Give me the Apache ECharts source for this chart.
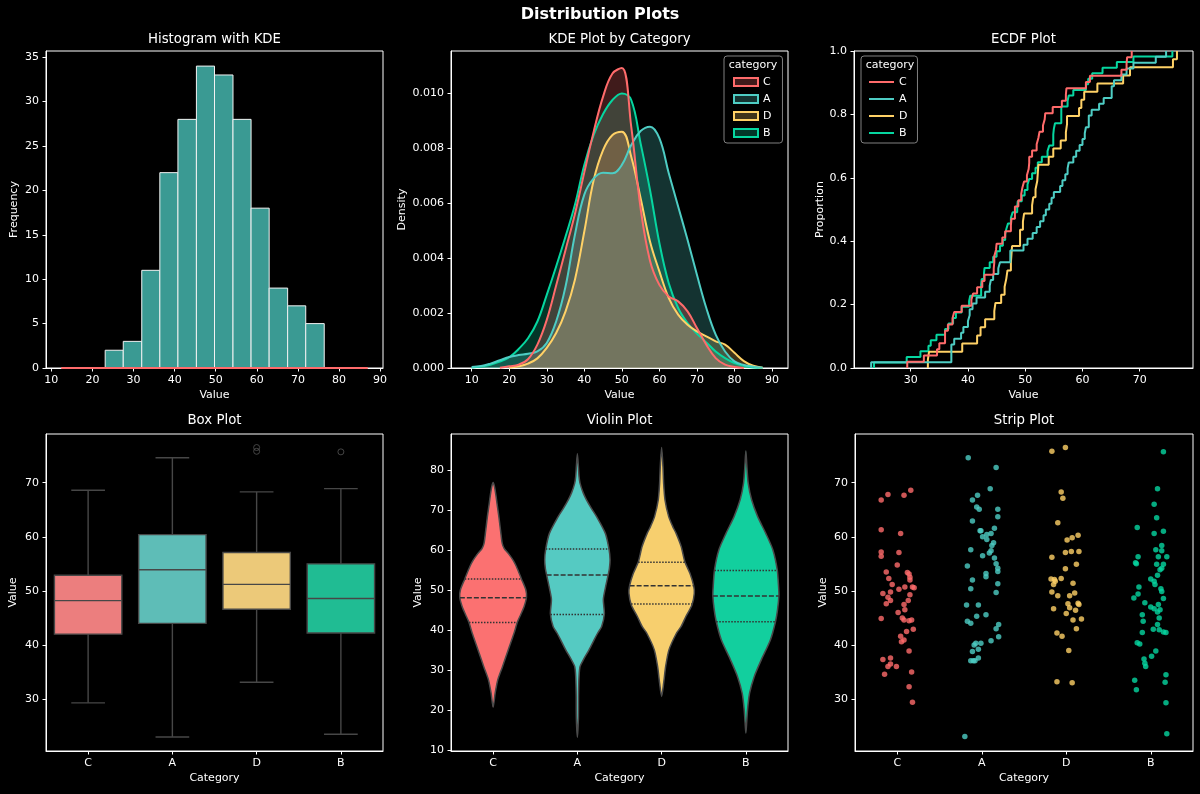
<!DOCTYPE html>
<html>
<head>
<meta charset="utf-8">
<title>Distribution Plots</title>
<script src="https://cdn.jsdelivr.net/npm/echarts@6/dist/echarts.min.js"></script>
<style>
  html, body { margin: 0; padding: 0; background: #000; }
  #chart { width: 1200px; height: 794px; }
</style>
</head>
<body>
<div id="chart"></div>
<script>
// ---- data ----
var categories = ['C', 'A', 'D', 'B'];

// histogram (all 200 values)
var histEdges = [23.1, 27.5, 32.0, 36.4, 40.8, 45.3, 49.7, 54.2, 58.6, 63.0, 67.5, 71.9, 76.4];
var histCounts = [2, 3, 11, 22, 28, 34, 33, 28, 18, 9, 7, 5];
var histKdeLine = [[12.4, 0], [87.0, 0]];

// KDE by category, sampled along kdeX
var kdeX = [10, 12.5, 15, 17.5, 20, 22.5, 25, 27.5, 30, 32.5, 35, 37.5, 40, 42.5, 45, 47.5, 50,
            52.5, 55, 57.5, 60, 62.5, 65, 67.5, 70, 72.5, 75, 77.5, 80, 82.5, 85, 87.5, 90];
var kdeC = [null, null, null, 0.00001, 0.00006, 0.00012, 0.00032, 0.00085, 0.00175, 0.00300, 0.00429,
            0.00560, 0.00711, 0.00859, 0.00986, 0.01070, 0.01090, 0.00877, 0.00580, 0.00390, 0.00302,
            0.00260, 0.00242, 0.00206, 0.00145, 0.00085, 0.00036, 0.00012, 0.00004, 0, null, null, null];
var kdeA = [0.00004, 0.00007, 0.00016, 0.00028, 0.00040, 0.00047, 0.00052, 0.00060, 0.00091, 0.00169,
            0.00296, 0.00484, 0.00630, 0.00689, 0.00710, 0.00708, 0.00738, 0.00810, 0.00861, 0.00877,
            0.00835, 0.00708, 0.00587, 0.00466, 0.00339, 0.00218, 0.00121, 0.00060, 0.00024, 0.00011,
            0.00005, 0.00001, null];
var kdeD = [null, null, null, null, 0.00001, 0.00006, 0.00016, 0.00035, 0.00073, 0.00127, 0.00206,
            0.00321, 0.00496, 0.00683, 0.00792, 0.00847, 0.00859, 0.00768, 0.00617, 0.00460, 0.00351,
            0.00254, 0.00194, 0.00157, 0.00133, 0.00115, 0.00097, 0.00085, 0.00055, 0.00025, 0.00008,
            0.00001, null];
var kdeB = [0.00002, 0.00005, 0.00012, 0.00023, 0.00039, 0.00069, 0.00108, 0.00169, 0.00266, 0.00369,
            0.00478, 0.00593, 0.00738, 0.00847, 0.00923, 0.00974, 0.00998, 0.00974, 0.00816, 0.00647,
            0.00454, 0.00308, 0.00218, 0.00163, 0.00125, 0.00093, 0.00060, 0.00036, 0.00018, 0.00008,
            0.00002, 0.00001, null];

// raw values per category (strip plot, also used for the ECDF) and their strip jitter
var valuesC = [66.8, 67.8, 67.7, 68.6, 61.3, 60.6, 57.2, 56.4, 57.1, 54.8, 53.5, 53.4, 53.1, 52.3, 52.5,
               51.2, 52.0, 50.7, 50.7, 50.6, 50.3, 49.5, 49.8, 49.3, 48.8, 48.2, 48.2, 47.6, 47.5, 46.5,
               46.0, 44.9, 45.0, 44.6, 44.5, 44.6, 42.5, 42.9, 41.6, 40.6, 40.9, 38.9, 37.3, 37.6, 36.5,
               36.0, 36.0, 34.6, 35.0, 32.3, 29.4];
var jitterC = [-0.19, -0.11, 0.08, 0.16, -0.19, 0.04, -0.19, -0.19, 0.02, 0.00, -0.13, 0.12, 0.14, -0.10,
               0.15, -0.06, 0.15, 0.09, 0.18, 0.20, 0.02, -0.17, -0.08, 0.15, -0.11, -0.08, 0.13, -0.13,
               0.08, 0.09, 0.01, -0.19, 0.06, 0.08, 0.14, 0.17, 0.11, 0.19, 0.04, 0.05, 0.08, 0.14, -0.17,
               -0.08, -0.08, -0.11, -0.01, -0.15, 0.17, 0.14, 0.18];
var valuesA = [74.6, 72.8, 68.9, 67.7, 66.8, 65.5, 65.1, 65.1, 63.7, 62.9, 61.6, 61.1, 61.1, 60.6, 60.4,
               60.0, 59.5, 58.9, 58.4, 57.6, 57.4, 57.0, 56.5, 56.1, 55.0, 54.2, 54.6, 53.6, 53.2, 52.6,
               52.0, 50.4, 51.3, 49.7, 47.4, 47.4, 45.6, 45.3, 44.4, 44.0, 43.8, 43.0, 41.5, 40.8, 40.3,
               40.3, 40.0, 39.2, 38.8, 37.6, 37.1, 37.1, 37.1, 23.1];
var jitterA = [-0.16, 0.17, 0.10, -0.05, -0.11, -0.06, -0.03, 0.19, 0.19, -0.11, 0.15, -0.02, -0.01, 0.11,
               0.06, 0.01, 0.06, 0.14, 0.12, -0.13, 0.11, 0.09, 0.01, 0.15, 0.17, 0.19, -0.17, 0.19, 0.05,
               0.05, -0.11, -0.13, 0.19, 0.17, -0.18, -0.04, 0.05, -0.06, -0.17, -0.13, 0.20, 0.17, 0.20,
               0.11, -0.07, -0.01, -0.09, -0.04, -0.11, -0.04, -0.10, -0.08, -0.13, -0.20];
var valuesD = [75.8, 76.5, 68.3, 67.1, 62.6, 56.2, 59.4, 59.8, 60.3, 57.1, 57.3, 57.3, 54.1, 54.9, 52.2,
               52.1, 51.8, 52.3, 51.2, 51.4, 49.8, 49.1, 49.1, 49.6, 47.6, 47.7, 47.5, 46.7, 46.9, 46.4,
               45.8, 44.6, 44.8, 43.0, 42.2, 41.6, 39.0, 33.2, 33.0];
var jitterD = [-0.17, -0.01, -0.06, -0.04, -0.10, -0.17, 0.01, 0.07, 0.14, -0.01, 0.06, 0.15, -0.01, 0.12,
               -0.18, -0.14, -0.13, -0.06, -0.15, 0.08, -0.17, -0.10, 0.04, 0.10, 0.02, 0.14, 0.15, -0.15,
               0.04, 0.11, 0.00, 0.08, 0.18, 0.12, -0.11, -0.05, 0.03, -0.11, 0.07];
var valuesB = [75.7, 68.9, 66.0, 63.5, 61.7, 60.6, 61.0, 58.4, 57.6, 57.4, 56.3, 56.3, 56.3, 55.2, 55.0,
               54.9, 54.9, 54.2, 53.9, 52.9, 52.2, 51.8, 51.2, 50.7, 50.4, 49.9, 49.4, 48.7, 48.6, 47.8,
               47.5, 47.0, 46.7, 46.5, 46.1, 45.6, 45.0, 44.4, 43.8, 42.9, 42.8, 42.4, 42.3, 42.3, 40.4,
               40.2, 38.9, 37.9, 37.4, 36.6, 36.0, 33.5, 34.5, 33.1, 31.7, 29.3, 23.6];
var jitterB = [0.15, 0.08, 0.04, 0.07, -0.16, 0.04, 0.15, 0.13, 0.06, 0.13, -0.15, 0.09, 0.19, -0.18, -0.17,
               0.07, 0.15, 0.13, 0.11, 0.08, 0.00, 0.04, 0.05, -0.14, 0.12, 0.13, -0.15, -0.20, 0.15, -0.07,
               0.09, 0.00, 0.04, 0.11, 0.08, -0.10, 0.10, -0.09, 0.08, 0.03, 0.10, 0.15, 0.18, -0.10, -0.16,
               -0.13, 0.06, 0.01, -0.08, -0.07, -0.06, -0.19, 0.18, 0.17, -0.17, 0.18, 0.19];

// box plot statistics, in category order C, A, D, B
var boxWhiskerLow = [29.3, 23.0, 33.1, 23.5];
var boxQ1 = [42.0, 44.0, 46.6, 42.2];
var boxMedian = [48.2, 53.9, 51.2, 48.6];
var boxQ3 = [52.9, 60.4, 57.1, 55.0];
var boxWhiskerHigh = [68.6, 74.6, 68.3, 68.9];
var boxOutliers = [['D', 76.5], ['D', 75.8], ['B', 75.7]];

// violin profiles: [value, density relative to the widest violin]
var violinC = [[77.0, 0], [76.0, 0.04], [74.0, 0.08], [71.5, 0.12], [68.5, 0.17], [64.3, 0.23], [61.8, 0.27],
               [60.5, 0.33], [59.3, 0.45], [57.5, 0.60], [56.0, 0.69], [52.9, 0.84], [50.2, 0.97],
               [48.3, 0.99], [46.0, 0.92], [44.0, 0.82], [42.1, 0.72], [39.3, 0.62], [35.2, 0.45],
               [31.0, 0.28], [27.7, 0.14], [24.3, 0.06], [20.8, 0]];
var violinA = [[84.2, 0], [81.0, 0.03], [78.5, 0.05], [76.8, 0.08], [74.5, 0.17], [72.7, 0.27], [70.5, 0.42],
               [68.5, 0.57], [64.3, 0.83], [60.3, 0.94], [57.7, 0.97], [55.5, 0.95], [53.8, 0.91],
               [50.2, 0.82], [47.7, 0.77], [44.1, 0.80], [41.0, 0.72], [39.3, 0.60], [37.7, 0.50],
               [35.2, 0.35], [32.7, 0.18], [31.0, 0.08], [28.5, 0.05], [24.0, 0.035], [18.0, 0.03], [13.3, 0]];
var violinD = [[85.8, 0], [81.0, 0.04], [76.8, 0.06], [72.7, 0.10], [68.5, 0.21], [66.0, 0.33], [64.3, 0.43],
               [61.0, 0.58], [57.2, 0.69], [54.3, 0.84], [51.2, 0.95], [49.3, 0.97], [46.4, 0.90],
               [43.5, 0.72], [41.0, 0.58], [39.3, 0.44], [35.2, 0.22], [31.0, 0.12], [26.8, 0.06], [23.5, 0]];
var violinB = [[85.0, 0], [81.0, 0.03], [76.8, 0.07], [72.7, 0.17], [68.5, 0.35], [64.3, 0.59], [60.2, 0.80],
               [55.2, 0.93], [51.0, 0.97], [48.75, 0.98], [45.2, 0.94], [42.25, 0.88], [37.7, 0.73],
               [32.7, 0.46], [28.5, 0.25], [24.3, 0.11], [20.2, 0.05], [16.5, 0.02], [14.3, 0]];

// tick labels
var histXTicks = [10, 20, 30, 40, 50, 60, 70, 80, 90];
var histYTicks = [0, 5, 10, 15, 20, 25, 30, 35];
var kdeXTicks = [10, 20, 30, 40, 50, 60, 70, 80, 90];
var kdeYTicks = [0, 0.002, 0.004, 0.006, 0.008, 0.010];
var ecdfXTicks = [30, 40, 50, 60, 70];
var ecdfYTicks = [0, 0.2, 0.4, 0.6, 0.8, 1.0];
var catTicks = [0, 1, 2, 3];
var boxYTicks = [30, 40, 50, 60, 70];
var violinYTicks = [10, 20, 30, 40, 50, 60, 70, 80];

// ---- styles ----
var fontFamily = 'DejaVu Sans';
var palette = {C: '#FF6B6B', A: '#4ECDC4', D: '#FFD166', B: '#06D6A0'};
var boxColors = {C: '#EC7E7E', A: '#5EBDB7', D: '#ECC979', B: '#20BC93'};
var violinColors = {C: '#FB7171', A: '#55CAC2', D: '#F7CF6E', B: '#12CF9E'};
var boxLine = '#474747';
var drawOrder = ['B', 'D', 'A', 'C'];
var kdeByCat = {C: kdeC, A: kdeA, D: kdeD, B: kdeB};
var valuesByCat = {C: valuesC, A: valuesA, D: valuesD, B: valuesB};
var jitterByCat = {C: jitterC, A: jitterA, D: jitterD, B: jitterB};
var violinProfiles = {C: violinC, A: violinA, D: violinD, B: violinB};

function rgba(hex, a) {
  var n = parseInt(hex.slice(1), 16);
  return 'rgba(' + ((n >> 16) & 255) + ',' + ((n >> 8) & 255) + ',' + (n & 255) + ',' + a + ')';
}

function axis(gridIndex, min, max, ticks, name, nameGap, formatter) {
  return {
    type: 'value', gridIndex: gridIndex, min: min, max: max,
    name: name, nameLocation: 'middle', nameGap: nameGap,
    nameTextStyle: {color: '#fff', fontSize: 11, fontFamily: fontFamily},
    axisLine: {show: true, onZero: false, lineStyle: {color: '#fff', width: 1}},
    axisTick: {show: true, length: 3.5, customValues: ticks, lineStyle: {color: '#fff', width: 1}},
    axisLabel: {color: '#fff', fontSize: 11, fontFamily: fontFamily, margin: 7,
                customValues: ticks, formatter: formatter},
    splitLine: {show: false}
  };
}
function catFmt(v) { return categories[Math.round(v)]; }

function ecdfSteps(values) {
  var s = values.slice().sort(function (a, b) { return a - b; });
  var pts = [[s[0], 0]];
  s.forEach(function (v, i) { pts.push([v, (i + 1) / s.length]); });
  return pts;
}

function profileWidth(prof, v) {
  for (var i = 0; i < prof.length - 1; i++) {
    var a = prof[i], b = prof[i + 1];
    if (v <= a[0] && v >= b[0]) {
      var t = (a[0] - v) / (a[0] - b[0]);
      return a[1] + t * (b[1] - a[1]);
    }
  }
  return 0;
}

function renderHist(params, api) {
  var p0 = api.coord([api.value(0), 0]);
  var p1 = api.coord([api.value(1), api.value(2)]);
  return {
    type: 'rect',
    shape: {x: p0[0], y: p1[1], width: p1[0] - p0[0], height: p0[1] - p1[1]},
    style: {fill: '#3A9A93', stroke: '#f2f2f2', lineWidth: 1}
  };
}

function renderBox(params, api) {
  var ci = api.value(0);
  var low = api.value(1), q1 = api.value(2), med = api.value(3), q3 = api.value(4), high = api.value(5);
  var half = api.size([0.8, 0])[0] / 2;
  var cx = api.coord([ci, med])[0];
  function y(v) { return api.coord([ci, v])[1]; }
  function ln(x1, y1, x2, y2) {
    return {type: 'line', shape: {x1: x1, y1: y1, x2: x2, y2: y2},
            style: {stroke: boxLine, lineWidth: 1.4}};
  }
  return {type: 'group', children: [
    ln(cx, y(q3), cx, y(high)),
    ln(cx, y(q1), cx, y(low)),
    ln(cx - half / 2, y(high), cx + half / 2, y(high)),
    ln(cx - half / 2, y(low), cx + half / 2, y(low)),
    {type: 'rect', shape: {x: cx - half, y: y(q3), width: 2 * half, height: y(q1) - y(q3)},
     style: {fill: boxColors[categories[ci]], stroke: boxLine, lineWidth: 1.4}},
    ln(cx - half, y(med), cx + half, y(med))
  ]};
}

function renderViolin(params, api) {
  var ci = api.value(0);
  var cat = categories[ci];
  var prof = violinProfiles[cat];
  var hw = 0.4;
  var pts = [];
  for (var i = 0; i < prof.length; i++) pts.push(api.coord([ci + prof[i][1] * hw, prof[i][0]]));
  for (var j = prof.length - 2; j >= 1; j--) pts.push(api.coord([ci - prof[j][1] * hw, prof[j][0]]));
  var children = [{type: 'polygon', shape: {points: pts, smooth: 0.25},
                   style: {fill: violinColors[cat], stroke: '#4a4a4a', lineWidth: 1.5}}];
  [[boxQ1[ci], [1.5, 1.5]], [boxMedian[ci], [5, 2]], [boxQ3[ci], [1.5, 1.5]]].forEach(function (q) {
    var w = profileWidth(prof, q[0]) * hw;
    var l = api.coord([ci - w, q[0]]), r = api.coord([ci + w, q[0]]);
    children.push({type: 'line', shape: {x1: l[0], y1: l[1], x2: r[0], y2: r[1]},
                   style: {stroke: '#333', lineWidth: 1.5, lineDash: q[1]}});
  });
  return {type: 'group', children: children};
}

// ---- series ----
var series = [];

series.push({
  type: 'custom', name: 'hist', xAxisIndex: 0, yAxisIndex: 0,
  data: histCounts.map(function (c, i) { return [histEdges[i], histEdges[i + 1], c]; }),
  encode: {x: [0, 1], y: 2},
  renderItem: renderHist
});
series.push({
  type: 'line', name: 'histKde', xAxisIndex: 0, yAxisIndex: 0, data: histKdeLine,
  symbol: 'none', lineStyle: {color: '#FF6B6B', width: 2}
});

drawOrder.forEach(function (cat) {
  series.push({
    type: 'line', name: cat, xAxisIndex: 1, yAxisIndex: 1,
    data: kdeX.map(function (x, i) { return [x, kdeByCat[cat][i]]; }),
    smooth: 0.4, symbol: 'none', connectNulls: false,
    lineStyle: {color: palette[cat], width: 2},
    itemStyle: {color: palette[cat]},
    areaStyle: {color: palette[cat], opacity: 0.25}
  });
});

drawOrder.forEach(function (cat) {
  series.push({
    type: 'line', name: cat, xAxisIndex: 2, yAxisIndex: 2,
    data: ecdfSteps(valuesByCat[cat]), step: 'end', symbol: 'none',
    lineStyle: {color: palette[cat], width: 2},
    itemStyle: {color: palette[cat]}
  });
});

series.push({
  type: 'custom', name: 'box', xAxisIndex: 3, yAxisIndex: 3,
  data: categories.map(function (c, i) {
    return [i, boxWhiskerLow[i], boxQ1[i], boxMedian[i], boxQ3[i], boxWhiskerHigh[i]];
  }),
  encode: {x: 0, y: [1, 2, 3, 4, 5]},
  renderItem: renderBox
});
series.push({
  type: 'scatter', name: 'outliers', xAxisIndex: 3, yAxisIndex: 3,
  data: boxOutliers.map(function (o) { return [categories.indexOf(o[0]), o[1]]; }),
  symbol: 'circle', symbolSize: 6,
  itemStyle: {color: 'rgba(0,0,0,0)', borderColor: '#555', borderWidth: 1}
});

series.push({
  type: 'custom', name: 'violin', xAxisIndex: 4, yAxisIndex: 4,
  data: categories.map(function (c, i) { return [i, boxMedian[i]]; }),
  encode: {x: 0, y: 1},
  renderItem: renderViolin
});

categories.forEach(function (cat, ci) {
  series.push({
    type: 'scatter', name: 'strip' + cat, xAxisIndex: 5, yAxisIndex: 5,
    data: valuesByCat[cat].map(function (v, i) { return [ci + jitterByCat[cat][i], v]; }),
    symbolSize: 5.5,
    itemStyle: {color: palette[cat], opacity: 0.8}
  });
});

// ---- layout ----
var gridBoxes = [
  {left: 46, top: 51, width: 337, height: 317},
  {left: 451, top: 51, width: 337, height: 317},
  {left: 854, top: 51, width: 339, height: 317},
  {left: 46, top: 434, width: 337, height: 317},
  {left: 451, top: 434, width: 337, height: 317},
  {left: 855, top: 434, width: 338, height: 317}
];
var grids = gridBoxes.map(function (g) {
  return Object.assign({show: true, borderColor: '#fff', borderWidth: 1,
                        containLabel: false, outerBoundsMode: 'none'}, g);
});

function f3(v) { return v.toFixed(3); }
function f1(v) { return v.toFixed(1); }

var xAxes = [
  axis(0, 8.7, 90.7, histXTicks, 'Value', 22),
  axis(1, 4.49, 94.26, kdeXTicks, 'Value', 22),
  axis(2, 20.1, 79.3, ecdfXTicks, 'Value', 22),
  axis(3, -0.5, 3.5, catTicks, 'Category', 22, catFmt),
  axis(4, -0.5, 3.5, catTicks, 'Category', 22, catFmt),
  axis(5, -0.5, 3.5, catTicks, 'Category', 22, catFmt)
];
var yAxes = [
  axis(0, 0, 35.7, histYTicks, 'Frequency', 26),
  axis(1, 0, 0.01152, kdeYTicks, 'Density', 43, f3),
  axis(2, 0, 1, ecdfYTicks, 'Proportion', 27, f1),
  axis(3, 20.4, 79.0, boxYTicks, 'Value', 27),
  axis(4, 9.83, 89.17, violinYTicks, 'Value', 27),
  axis(5, 20.4, 79.0, boxYTicks, 'Value', 26)
];

function legendBase(left) {
  return {
    orient: 'vertical', left: left, top: 56, selectedMode: false,
    itemGap: 5, itemTextGap: 8,
    textStyle: {color: '#fff', fontSize: 11, fontFamily: fontFamily, lineHeight: 12},
    backgroundColor: 'rgba(0,0,0,0.8)', borderColor: '#808080', borderWidth: 1, borderRadius: 3
  };
}
var kdeLegend = Object.assign(legendBase(724), {
  padding: [20, 11, 4, 9], itemWidth: 24, itemHeight: 8,
  data: categories.map(function (c) {
    return {name: c, icon: 'rect',
            itemStyle: {color: rgba(palette[c], 0.25), borderColor: palette[c], borderWidth: 2}};
  })
});
var ecdfLegend = Object.assign(legendBase(861), {
  padding: [20, 10, 4, 8], itemWidth: 25, itemHeight: 2, itemTextGap: 9,
  data: categories.map(function (c) {
    return {name: c, icon: 'rect', itemStyle: {color: palette[c], borderWidth: 0}};
  })
});

function label(text, x, y, size, weight) {
  return {
    type: 'text', x: x, y: y, z: 100,
    style: {text: text, fill: '#fff', font: (weight || 'normal') + ' ' + size + 'px "DejaVu Sans"',
            align: 'center', verticalAlign: 'middle', textAlign: 'center', textVerticalAlign: 'middle'}
  };
}

var option = {
  backgroundColor: '#000',
  animation: false,
  grid: grids,
  xAxis: xAxes,
  yAxis: yAxes,
  legend: [kdeLegend, ecdfLegend],
  graphic: [
    label('Distribution Plots', 600, 15, 16, 'bold'),
    label('Histogram with KDE', 214.5, 39.5, 13.3),
    label('KDE Plot by Category', 619.5, 39.5, 13.3),
    label('ECDF Plot', 1023.5, 39.5, 13.3),
    label('Box Plot', 214.5, 421, 13.3),
    label('Violin Plot', 619.5, 421, 13.3),
    label('Strip Plot', 1024, 421, 13.3),
    label('category', 753, 65.5, 11),
    label('category', 890, 65.5, 11)
  ],
  series: series
};

var chart = echarts.init(document.getElementById('chart'));
chart.setOption(option);
</script>
</body>
</html>
